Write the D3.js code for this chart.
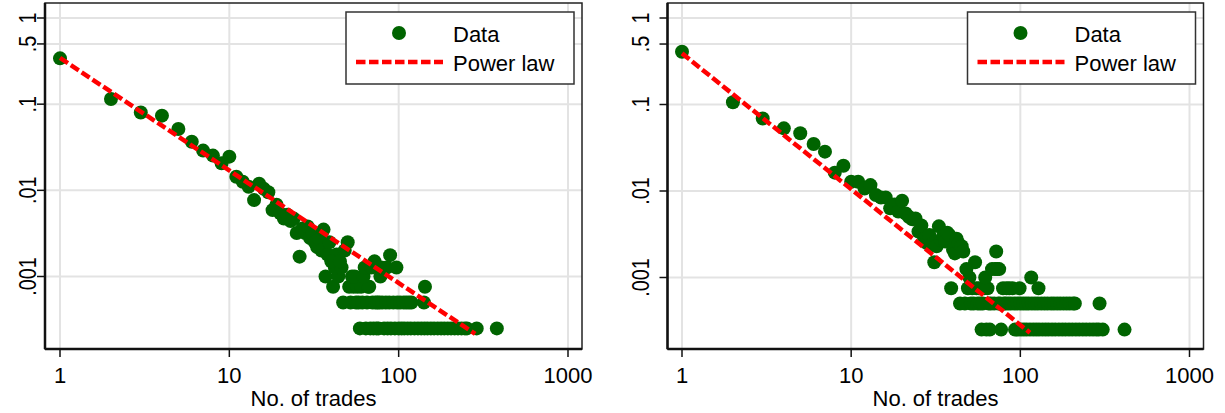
<!DOCTYPE html>
<html>
<head>
<meta charset="utf-8">
<title>Trades power law</title>
<script src="https://cdn.jsdelivr.net/npm/d3@7"></script>
<style>
    body { margin: 0; background: white; }
    text { font-family: "Liberation Sans", Arial, sans-serif; fill: #000; }
</style>
</head>
<body>
<div id="chart"></div>
<script>
    var xTicks = [1, 10, 100, 1000];
    var yTicks = [1, 0.5, 0.1, 0.01, 0.001];
    var yTickLabels = ['1', '.5', '.1', '.01', '.001'];
    var xTitle = 'No. of trades';
    var legendLabels = ['Data', 'Power law'];

    // left panel: [no. of trades, share]
    var leftBody = [
        [1,.34],[2,.115],[3,.080],[4,.0736],[5,.0515],[6,.0367],[7,.0289],[8,.0253],[9,.0206],[10,.0246],
        [11,.0144],[12,.0126],[13,.0110],[14,.0077],[15,.0119],[16,.0104],[17,.0095],[18,.0059],[19,.0068],[20,.0054],
        [21,.0047],[22,.0052],[23,.0044],[24,.0047],[25,.0032],[26,.0017],[27,.0036],[28,.0032],[29,.0038],[30,.0028],
        [31,.0032],[32,.0025],[33,.0022],[34,.0027],[35,.0020],[36,.0035],[37,.0010],[38,.0018],[39,.0025],
        [43,.0018],[48,.0020],[50,.0025],[89,.00177]
    ];
    var leftTail = [
        [0.00025, [59,64,68,71,74,76,82,86,90,95,100,104,108,113,118,124,130,136,142,148,155,162,170,178,186,195,204,214,224,235,246,253,289,380]],
        [0.0005,  [47,52,56,58,61,65,70,73,75,77,80,84,88,93,98,102,107,111,115,119,141]],
        [0.00076, [41,51,54,57,60,66,67,143]],
        [0.0010,  [44,53,55,62,78]],
        [0.00127, [42,46,63,69,79,85,97]],
        [0.0015,  [40,45,72]]
    ];
    var leftFit = [[1, 0.344], [283, 0.000216]];

    // right panel
    var rightBody = [
        [1,.408],[2,.106],[3,.069],[4,.053],[5,.0465],[6,.0349],[7,.0285],[8,.0163],[9,.0196],[10,.0128],
        [11,.0128],[12,.0107],[13,.0117],[14,.0090],[15,.0084],[16,.0084],[17,.0063],[18,.0070],[19,.0058],[20,.0077],
        [21,.0055],[22,.0050],[23,.0047],[24,.0048],[25,.0034],[26,.0040],[27,.0028],[28,.0025],[29,.0031],[30,.0024],
        [31,.0015],[32,.0023],[33,.0039],[34,.0027],[35,.0030],[36,.0026],[37,.0033],[38,.0031],[40,.0021],[41,.0019],
        [42,.0028],[43,.0025],[45,.0023],[46,.0020],[54,.0015],[72,.0020]
    ];
    var rightTail = [
        [0.00025, [59,63,66,77,93,97,101,105,109,114,119,124,129,135,141,147,154,161,169,177,185,194,203,213,223,234,245,257,269,281,291,307,413]],
        [0.0005,  [44,47,51,53,56,58,60,65,67,70,74,76,80,82,85,88,92,96,100,104,108,112,117,122,127,133,139,145,152,158,165,172,180,188,196,205,210,294]],
        [0.00075, [39,49,52,55,57,61,64,79,83,86,90,99,128]],
        [0.0010,  [50,62,116]],
        [0.00125, [48,68,71,73,75]]
    ];
    var rightFit = [[1, 0.39], [114, 0.00023]];

    var W = 1225, H = 413;
    var green = '#006400', red = '#ff0000';

    var svg = d3.select('#chart')
        .append('svg')
        .attr('width', W)
        .attr('height', H);

    function expand(body, tail) {
        var pts = body.slice();
        tail.forEach(function(row) {
            row[1].forEach(function(n) { pts.push([n, row[0]]); });
        });
        return pts;
    }

    function panel(opt) {
        var x = d3.scaleLog().domain([1, 1000]).range(opt.xRange);
        var y = d3.scaleLog().domain([1, 0.001]).range(opt.yRange);
        var g = svg.append('g');
        var f = opt.frame;

        // grid
        g.selectAll('.gx').data(xTicks).enter().append('line')
            .attr('x1', d => x(d)).attr('x2', d => x(d))
            .attr('y1', f.top).attr('y2', f.bottom)
            .attr('stroke', '#e3e3e3').attr('stroke-width', 2);
        g.selectAll('.gy').data(yTicks).enter().append('line')
            .attr('y1', d => y(d)).attr('y2', d => y(d))
            .attr('x1', f.left).attr('x2', f.right)
            .attr('stroke', '#e3e3e3').attr('stroke-width', 2);

        // data
        g.selectAll('circle.pt').data(opt.points).enter().append('circle')
            .attr('class', 'pt')
            .attr('cx', d => x(d[0]))
            .attr('cy', d => y(d[1]))
            .attr('r', 7)
            .attr('fill', green);

        // power law fit
        g.append('path')
            .datum(opt.fit)
            .attr('d', d3.line().x(d => x(d[0])).y(d => y(d[1])))
            .attr('fill', 'none')
            .attr('stroke', red)
            .attr('stroke-width', 4.5)
            .attr('stroke-dasharray', '9.5,3.5');

        // frame: heavy left/bottom axis lines, thin top/right
        g.append('rect')
            .attr('x', f.left).attr('y', f.top)
            .attr('width', f.right - f.left).attr('height', f.bottom - f.top)
            .attr('fill', 'none').attr('stroke', '#222').attr('stroke-width', 1.5);
        g.append('line')
            .attr('x1', f.left).attr('x2', f.left).attr('y1', f.top).attr('y2', f.bottom)
            .attr('stroke', '#111').attr('stroke-width', 2.5);
        g.append('line')
            .attr('x1', f.left).attr('x2', f.right).attr('y1', f.bottom).attr('y2', f.bottom)
            .attr('stroke', '#111').attr('stroke-width', 2.5);

        // ticks
        g.selectAll('.tx').data(xTicks).enter().append('line')
            .attr('x1', d => x(d)).attr('x2', d => x(d))
            .attr('y1', f.bottom).attr('y2', f.bottom + 8)
            .attr('stroke', '#111').attr('stroke-width', 1.5);
        g.selectAll('.ty').data(yTicks).enter().append('line')
            .attr('y1', d => y(d)).attr('y2', d => y(d))
            .attr('x1', f.left - 8).attr('x2', f.left)
            .attr('stroke', '#111').attr('stroke-width', 1.5);

        g.selectAll('.lx').data(xTicks).enter().append('text')
            .attr('x', d => x(d)).attr('y', 383)
            .attr('text-anchor', 'middle')
            .style('font-size', '22px')
            .text(d => d);
        // y labels are taller and narrower than x labels in the original
        g.selectAll('.ly').data(yTicks).enter().append('text')
            .attr('transform', d => 'translate(' + opt.labelX + ',' + y(d) + ') rotate(-90) scale(0.9,1.1)')
            .attr('text-anchor', 'middle')
            .style('font-size', '22px')
            .text((d, i) => yTickLabels[i]);

        g.append('text')
            .attr('x', (f.left + f.right) / 2).attr('y', 406)
            .attr('text-anchor', 'middle')
            .style('font-size', '22px')
            .text(xTitle);

        // legend
        var lg = g.append('g').attr('transform', 'translate(' + (f.right - 236) + ',12)');
        lg.append('rect')
            .attr('width', 228).attr('height', 72)
            .attr('fill', 'white').attr('stroke', '#333').attr('stroke-width', 1.5);
        lg.append('circle').attr('cx', 53).attr('cy', 21).attr('r', 7).attr('fill', green);
        lg.append('line')
            .attr('x1', 10).attr('x2', 97).attr('y1', 50).attr('y2', 50)
            .attr('stroke', red).attr('stroke-width', 4.5)
            .attr('stroke-dasharray', '9.5,3.5');
        lg.selectAll('.lt').data(legendLabels).enter().append('text')
            .attr('x', 107)
            .attr('y', (d, i) => 30 + i * 29)
            .style('font-size', '22px')
            .text(d => d);
    }

    panel({
        points: expand(leftBody, leftTail),
        fit: leftFit,
        xRange: [60, 568],
        yRange: [18, 276.5],
        frame: { left: 45, right: 582, top: 3, bottom: 349 },
        labelX: 36
    });
    panel({
        points: expand(rightBody, rightTail),
        fit: rightFit,
        xRange: [682, 1189.5],
        yRange: [18, 277.5],
        frame: { left: 667.5, right: 1203.5, top: 3, bottom: 349 },
        labelX: 649
    });
</script>
</body>
</html>
